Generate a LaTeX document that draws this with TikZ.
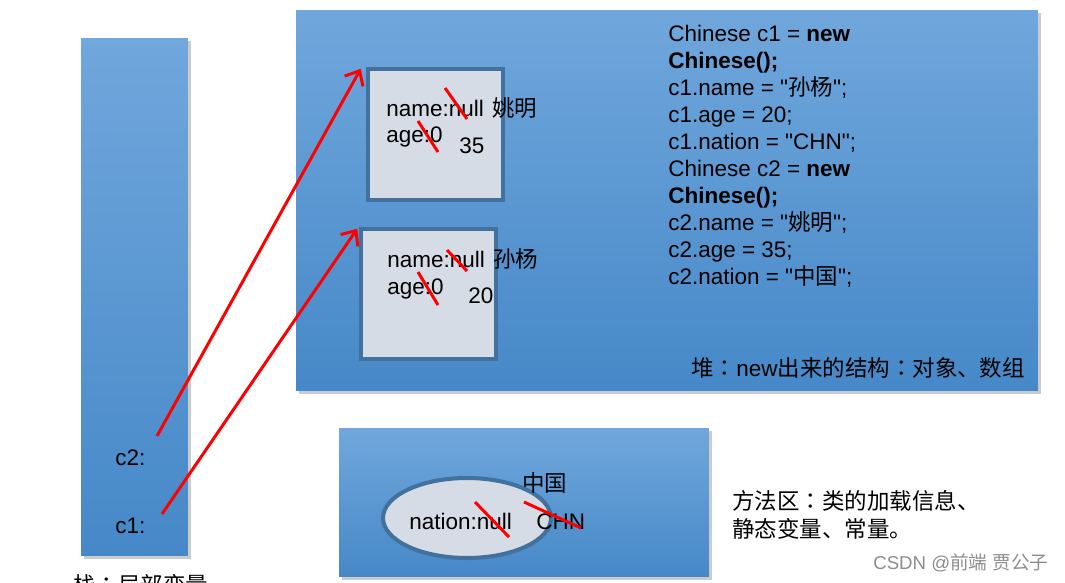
\documentclass[tikz,border=0pt]{standalone}
\usepackage{fontspec}
\setmainfont{Liberation Sans}[Ligatures=TeXOff]
\newfontfamily\cjk{Noto Sans CJK SC}
\newfontfamily\cjkpunct{Noto Sans CJK JP}
\newcommand{\zcolon}{{\cjkpunct ：}}
\usetikzlibrary{shapes.geometric,shadows,arrows.meta}
\definecolor{areatop}{HTML}{70A7DC}
\definecolor{areabot}{HTML}{4688C8}
\definecolor{objfill}{HTML}{D6DCE5}
\definecolor{objline}{HTML}{41719C}
\tikzset{
  memarea/.style={inner sep=0, top color=areatop, bottom color=areabot, draw=none,
    drop shadow={shadow xshift=1.6pt, shadow yshift=-1.6pt, fill=black!45, opacity=0.45}},
  objbox/.style={inner sep=0, fill=objfill, draw=objline, line width=2.3pt},
  txt/.style={inner sep=0, anchor=base west, font=\fontsize{12.8}{15.4}\selectfont},
  zhtxt/.style={txt, font=\fontsize{12.8}{15.4}\selectfont\cjk},
  strike/.style={draw=red, line width=1.7pt},
  ptr/.style={draw=red, line width=1.7pt, -{Straight Barb[length=2.4mm, width=4.2mm]}},
}

\begin{document}
\begin{tikzpicture}[x=0.02cm, y=-0.02cm]
\useasboundingbox (0,0) rectangle (1065,582);
\node[memarea, minimum width=2.14cm, minimum height=10.36cm] (stack) at (134.5,297) {};
\node[memarea, minimum width=14.84cm, minimum height=7.62cm] (heap) at (667,200.5) {};
\node[memarea, minimum width=7.40cm, minimum height=2.98cm] (method) at (524,502.5) {};
\node[objbox, minimum width=2.70cm, minimum height=2.62cm] (obj1) at (435.5,134.5) {};
\node[objbox, minimum width=2.70cm, minimum height=2.60cm] (obj2) at (428.5,294) {};
\node[objbox, ellipse, minimum width=3.36cm, minimum height=1.60cm] (nation) at (467,518) {};
\node[txt] (n1) at (386,116) {name:null};
\node[zhtxt] (v1) at (492,116) {姚明};
\node[txt] (a1) at (386,142) {age:0};
\node[txt] (g1) at (459,153) {35};
\node[txt] (n2) at (387,267) {name:null};
\node[zhtxt] (v2) at (493,267) {孙杨};
\node[txt] (a2) at (387,294) {age:0};
\node[txt] (g2) at (468,303) {20};
\node[txt] (nn) at (409,529) {nation:null};
\node[txt] (nv) at (536,529) {CHN};
\node[zhtxt] (nz) at (522,491) {中国};
\draw[strike] (445,88) -- (467,119);
\draw[strike] (418,121) -- (438,152);
\draw[strike] (447,250) -- (467,271);
\draw[strike] (418,272) -- (438,305);
\draw[strike] (475,502) -- (509,537);
\draw[strike] (524,502) -- (581,528);
\node[txt, anchor=north west, align=left] (code) at (668,24.5) {%
Chinese c1 = \textbf{new}\\
\textbf{Chinese();}\\
c1.name = "{\cjk 孙杨}";\\
c1.age = 20;\\
c1.nation = "CHN";\\
Chinese c2 = \textbf{new}\\
\textbf{Chinese();}\\
c2.name = "{\cjk 姚明}";\\
c2.age = 35;\\
c2.nation = "{\cjk 中国}";};
\node[zhtxt] (heaplabel) at (691,376) {堆\zcolon{\fontspec{Liberation Sans}new}出来的结构\zcolon 对象、数组};
\node[zhtxt] (methodlabel1) at (732,509) {方法区\zcolon 类的加载信息、};
\node[zhtxt] (methodlabel2) at (732,537) {静态变量、常量。};
\node[txt] (c2) at (115,465) {c2:};
\node[txt] (c1) at (115,533) {c1:};
\node[zhtxt] (stacklabel) at (73,593) {栈\zcolon 局部变量};
\node[txt, text=black!45, font=\fontsize{10.6}{12}\selectfont] (mark) at (873,569) {CSDN @{\cjk 前端} {\cjk 贾公子}};
\coordinate (c2ptr) at (157,436);
\coordinate (c1ptr) at (162,514);
\draw[ptr] (c2ptr) -- ([xshift=-3pt, yshift=-1pt]obj1.north west);
\draw[ptr] (c1ptr) -- ([xshift=-1pt, yshift=-1pt]obj2.north west);
\end{tikzpicture}
\end{document}
